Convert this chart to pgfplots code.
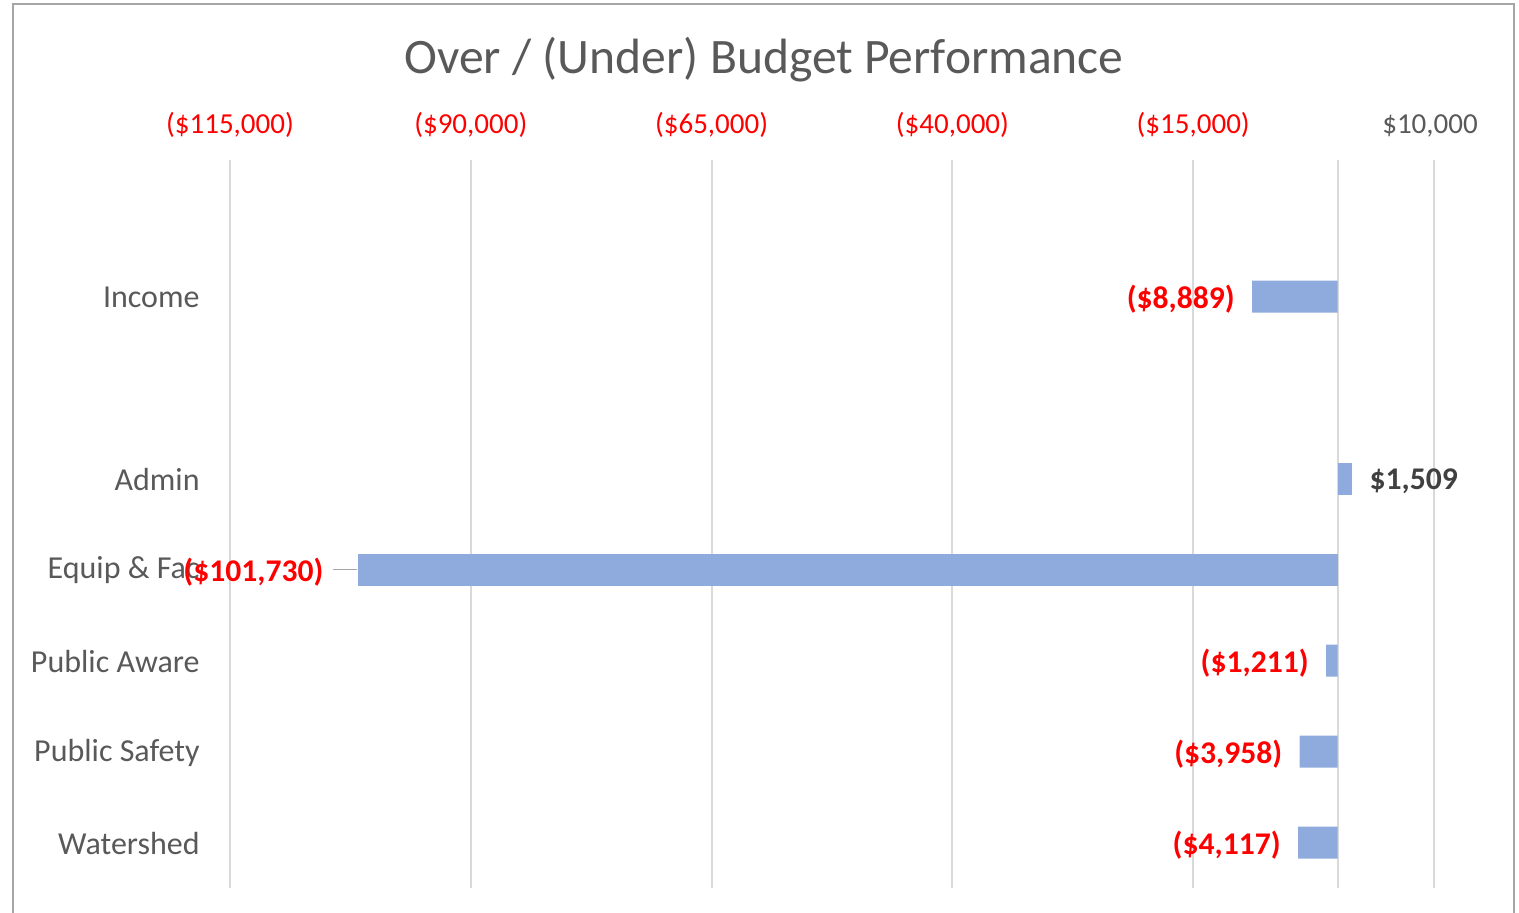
\documentclass[border=0pt]{standalone}
\usepackage{pgfplots}
\pgfplotsset{compat=1.18}
\usepackage{fontspec}
\setmainfont{Carlito}
\definecolor{barblue}{HTML}{8FAADC}
\definecolor{txtgray}{HTML}{595959}
\definecolor{lblgray}{HTML}{404040}
\definecolor{gridgray}{HTML}{D9D9D9}
\definecolor{framegray}{HTML}{A6A6A6}
\definecolor{lblred}{HTML}{FF0000}
\begin{document}
\begin{tikzpicture}
\useasboundingbox (0pt,0pt) rectangle (759.5pt,456pt);
\draw[framegray, line width=1pt] (6.5pt,-2pt) -- (6.5pt,454pt) -- (757pt,454pt) -- (757pt,-2pt);
\node[txtgray, font=\fontsize{24.8}{29}\selectfont] at (382pt,426pt) {Over / (Under) Budget Performance};
\begin{axis}[
  at={(115pt,12pt)}, anchor=south west,
  width=602pt, height=364pt, scale only axis,
  xmin=-115000, xmax=10000,
  ymin=0.5, ymax=8.5, y dir=reverse,
  scaled x ticks=false,
  xbar, bar width=16pt,
  axis line style={draw=none},
  xtick={-115000,-90000,-65000,-40000,-15000,10000},
  xticklabels={{\color{lblred}(\$115,000)},{\color{lblred}(\$90,000)},{\color{lblred}(\$65,000)},{\color{lblred}(\$40,000)},{\color{lblred}(\$15,000)},{\color{txtgray}\hspace{-4pt}\$10,000}},
  xticklabel pos=top,
  xmajorgrids, grid style={gridgray, line width=1pt},
  major tick length=0pt,
  ytick={2,4,5,6,7,8},
  yticklabels={Income,Admin,Equip \& Fac,Public Aware,Public Safety,Watershed},
  yticklabel style={txtgray, font=\fontsize{16}{19}\selectfont, inner sep=0pt, anchor=east, xshift=-15pt, yshift=-0.5pt},
  xticklabel style={font=\fontsize{14.5}{17}\selectfont, inner sep=0pt, anchor=base, yshift=13.5pt},
  point meta=explicit symbolic,
  nodes near coords,
  clip=false,
]
\draw[gridgray, line width=1pt] (axis cs:0,0.5) -- (axis cs:0,8.5);
\addplot[fill=barblue, draw=none, bar shift=0pt,
  nodes near coords style={font=\bfseries\fontsize{15.8}{18}\selectfont, inner sep=0pt, text=lblred, anchor=east, xshift=-8.5pt, yshift=-1.5pt}]
  coordinates {(-8889,2) [{(\$8,889)}] (-1211,6) [{(\$1,211)}] (-3958,7) [{(\$3,958)}] (-4117,8) [{(\$4,117)}]};
\addplot[fill=barblue, draw=none, bar shift=0pt,
  nodes near coords style={font=\bfseries\fontsize{15.8}{18}\selectfont, inner sep=0pt, text=lblgray, anchor=west, xshift=8.5pt, yshift=-1.5pt}]
  coordinates {(1509,4) [{\$1,509}]};
\addplot[fill=barblue, draw=none, bar shift=0pt,
  nodes near coords style={font=\bfseries\fontsize{15.8}{18}\selectfont, inner sep=0pt, anchor=east, xshift=0pt, yshift=-1.5pt}]
  coordinates {(-101730,5) [{\textcolor{lblred}{(\$101,730)}\hspace{5pt}\textcolor{framegray}{\rule[0.36em]{12pt}{0.9pt}}}]};
\end{axis}
\end{tikzpicture}
\end{document}
